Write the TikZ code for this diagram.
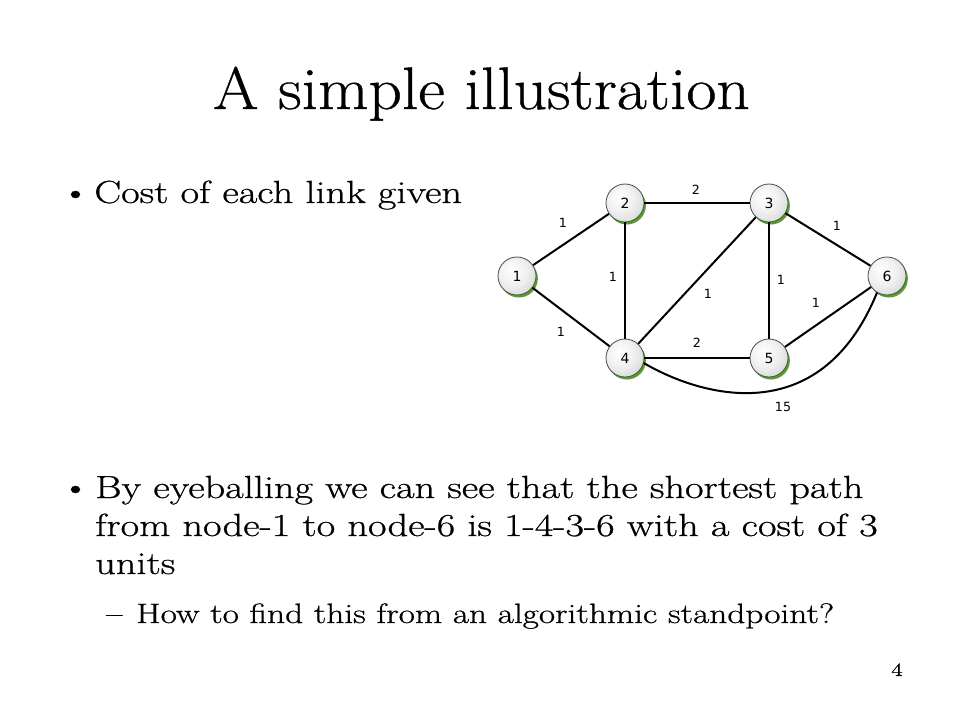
\documentclass[tikz,border=0pt]{standalone}
\usepackage{fontspec}
\usetikzlibrary{shadows}
\newfontfamily\lblfont{DejaVu Sans}
\newfontfamily\bodyfont{Latin Modern Roman}[Ligatures=TeX, FakeStretch=1.26, FakeBold=0.7]
\newfontfamily\titlefont{Latin Modern Roman}[Ligatures=TeX, FakeStretch=1.09, FakeBold=0.6]
\definecolor{shadowgreen}{RGB}{86,158,44}
\pgfdeclareradialshading{nodeshade}{\pgfpoint{-9bp}{9bp}}{color(0bp)=(white); color(18bp)=(black!6); color(40bp)=(black!21); color(50bp)=(black!26)}
\tikzset{
  gnode/.style={circle, draw=black!70, line width=0.6pt, shading=nodeshade,
    minimum size=28.5pt, inner sep=0pt,
    general shadow={fill=shadowgreen, shadow xshift=1.4pt, shadow yshift=-1.9pt},
    font=\lblfont\fontsize{10.5}{12}\selectfont},
  link/.style={line width=1.5pt, black},
  cost/.style={inner sep=0pt, font=\lblfont\fontsize{9.5}{11}\selectfont},
  bodytext/.style={anchor=base west, inner sep=0pt, font=\bodyfont\fontsize{24}{29}\selectfont},
  subtext/.style={anchor=base west, inner sep=0pt, font=\bodyfont\fontsize{21}{26}\selectfont},
  bulletmark/.style={anchor=base, inner sep=0pt, font=\bodyfont\fontsize{24}{29}\selectfont}
}
\begin{document}
\begin{tikzpicture}[x=0.75pt,y=-0.75pt]
\fill[white] (0,0) rectangle (960,720);
\useasboundingbox (0,0) rectangle (960,720);

% title
\node[anchor=base, inner sep=0pt, font=\titlefont\fontsize{45}{52}\selectfont] (title) at (481.5,109) {A simple illustration};

% bullets
\node[bulletmark] (b1) at (75.5,203) {\textbullet};
\node[bodytext] (t1) at (94,203) {Cost of each link given};
\node[bulletmark] (b2) at (75.5,498) {\textbullet};
\node[bodytext] (t2a) at (95,498) {By eyeballing we can see that the shortest path};
\node[bodytext] (t2b) at (95,536) {from node-1 to node-6 is 1-4-3-6 with a cost of 3};
\node[bodytext] (t2c) at (95,574) {units};
\node[subtext] (d1) at (106,623) {–};
\node[subtext] (t3) at (136,623) {How to find this from an algorithmic standpoint?};

% page number
\node[anchor=base, inner sep=0pt, font=\bodyfont\fontsize{14}{16}\selectfont] (pg) at (897,676) {4};

% graph nodes
\node[gnode] (n1) at (517,276) {1};
\node[gnode] (n2) at (625,203) {2};
\node[gnode] (n3) at (769,203) {3};
\node[gnode] (n4) at (625,358) {4};
\node[gnode] (n5) at (769,358) {5};
\node[gnode] (n6) at (887,276) {6};

% links
\draw[link] (n1) -- (n2);
\draw[link] (n1) -- (n4);
\draw[link] (n2) -- (n3);
\draw[link] (n2) -- (n4);
\draw[link] (n4) -- (n3);
\draw[link] (n3) -- (n5);
\draw[link] (n3) -- (n6);
\draw[link] (n4) -- (n5);
\draw[link] (n5) -- (n6);
\draw[link] (n4.-15) .. controls (700,396) and (820,432) .. (n6.-121);

% costs
\node[cost] (c12) at (563,223) {1};
\node[cost] (c23) at (696,190) {2};
\node[cost] (c36) at (837,226) {1};
\node[cost] (c24) at (613,277) {1};
\node[cost] (c43) at (708,294) {1};
\node[cost] (c35) at (781,280) {1};
\node[cost] (c56) at (816,303) {1};
\node[cost] (c14) at (561,332) {1};
\node[cost] (c45) at (697,343) {2};
\node[cost] (c46) at (783,407) {15};
\end{tikzpicture}
\end{document}
